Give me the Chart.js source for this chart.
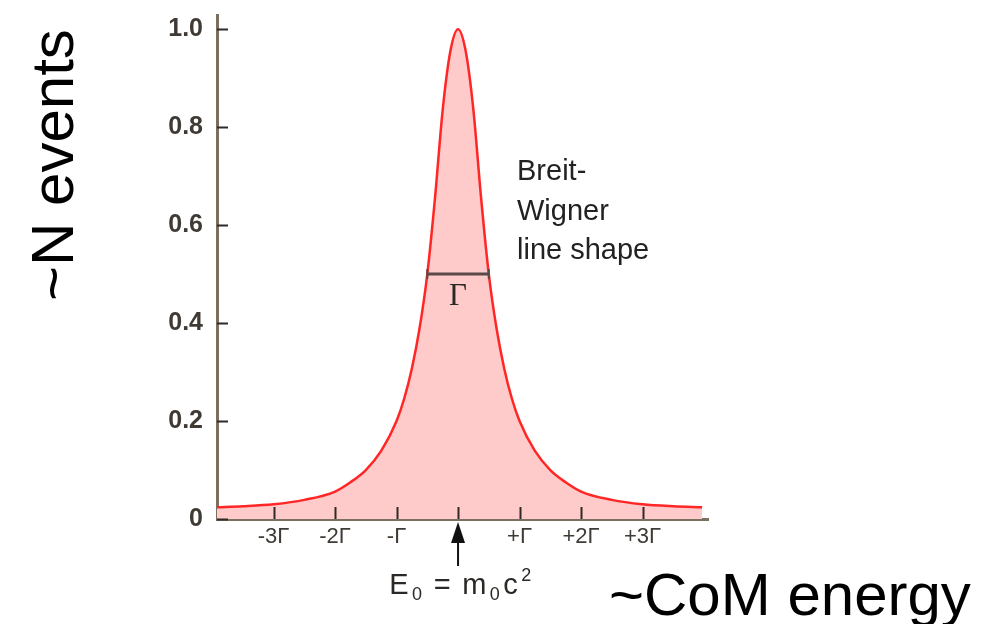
<!DOCTYPE html>
<html>
<head>
<meta charset="utf-8">
<title>Breit-Wigner line shape</title>
<script src="https://cdn.jsdelivr.net/npm/chart.js@4.4.1/dist/chart.umd.min.js"></script>
<style>
    html, body { margin: 0; padding: 0; background: #ffffff; }
    #wrap { width: 985px; height: 624px; position: relative; }
</style>
</head>
<body>
<div id="wrap"><canvas id="bwChart"></canvas></div>
<script>
// energy in units of Gamma, relative to E0
const energy = [-3.92, -3.5, -3, -2.5, -2, -1.75, -1.5, -1.25, -1, -0.875, -0.75, -0.625, -0.5, -0.375, -0.25, -0.125,
                0, 0.125, 0.25, 0.375, 0.5, 0.625, 0.75, 0.875, 1, 1.25, 1.5, 1.75, 2, 2.5, 3, 3.5, 3.97];
const events = [0.024, 0.026, 0.030, 0.039, 0.056, 0.075, 0.100, 0.139, 0.200, 0.246, 0.308, 0.390, 0.500, 0.655, 0.835, 0.955,
                1.0, 0.955, 0.835, 0.655, 0.500, 0.390, 0.308, 0.246, 0.200, 0.139, 0.100, 0.075, 0.056, 0.039, 0.030, 0.026, 0.024];

// full width at half maximum marker
const fwhmX = [-0.5, 0.5];
const fwhmY = [0.5, 0.5];

const xTicks = [-3, -2, -1, 0, 1, 2, 3];
const xTickLabels = ['-3\u0393', '-2\u0393', '-\u0393', '', '+\u0393', '+2\u0393', '+3\u0393'];
const yTicks = [0, 0.2, 0.4, 0.6, 0.8, 1.0];
const yTickLabels = ['0', '0.2', '0.4', '0.6', '0.8', '1.0'];

const tickColor = '#3f3a34';
const axisColor = '#7b705f';

// inside ticks, arrow, annotations and big axis titles
const decorations = {
    id: 'decorations',
    afterDatasetsDraw(chart) {
        const c = chart.ctx;
        const x = chart.scales.x;
        const y = chart.scales.y;
        const area = chart.chartArea;
        c.save();
        c.strokeStyle = '#2e2a26';
        c.lineWidth = 2;
        xTicks.forEach(v => {
            const px = Math.round(x.getPixelForValue(v)) + 0.5;
            c.beginPath();
            c.moveTo(px, area.bottom);
            c.lineTo(px, area.bottom - 12);
            c.stroke();
        });
        yTicks.forEach(v => {
            const py = Math.round(y.getPixelForValue(v)) + 0.5;
            c.beginPath();
            c.moveTo(area.left, py);
            c.lineTo(area.left + 11, py);
            c.stroke();
        });
        c.restore();
    },
    afterDraw(chart) {
        const c = chart.ctx;
        const x = chart.scales.x;
        const y = chart.scales.y;
        const area = chart.chartArea;
        const cx = x.getPixelForValue(0);
        c.save();

        // arrow pointing at E0
        c.fillStyle = '#111';
        c.strokeStyle = '#111';
        c.lineWidth = 2;
        c.beginPath();
        c.moveTo(cx, area.bottom + 12);
        c.lineTo(cx, area.bottom + 47);
        c.stroke();
        c.beginPath();
        c.moveTo(cx, area.bottom + 3);
        c.lineTo(cx - 7, area.bottom + 24);
        c.lineTo(cx + 7, area.bottom + 24);
        c.closePath();
        c.fill();

        // E0 = m0 c^2
        c.fillStyle = '#2b2825';
        c.textBaseline = 'alphabetic';
        c.textAlign = 'left';
        const big = '29px "Liberation Sans", Arial, sans-serif';
        const small = '18px "Liberation Sans", Arial, sans-serif';
        const parts = [
            ['E', big, 0], ['0', small, 6], [' = ', big, 0], ['m', big, 0], ['0', small, 6], ['c', big, 0], ['2', small, -13]
        ];
        let total = 0;
        parts.forEach(p => { c.font = p[1]; total += c.measureText(p[0]).width + 3.5; });
        let tx = cx - total / 2 + 4;
        const base = 594;
        parts.forEach(p => {
            c.font = p[1];
            c.fillText(p[0], tx, base + p[2]);
            tx += c.measureText(p[0]).width + 3.5;
        });

        // Gamma under the width bar
        c.font = '31px "Liberation Serif", "DejaVu Serif", serif';
        c.textAlign = 'center';
        c.fillStyle = '#2b2825';
        c.fillText('\u0393', cx, y.getPixelForValue(0.5) + 31);

        // curve label
        c.font = '29px "Liberation Sans", Arial, sans-serif';
        c.textAlign = 'left';
        c.fillStyle = '#222';
        c.fillText('Breit-', 517, 180);
        c.fillText('Wigner', 517, 220);
        c.fillText('line shape', 517, 259);

        // axis titles
        c.fillStyle = '#000';
        c.font = '60px "Liberation Sans", Arial, sans-serif';
        c.fillText('~CoM energy', 609, 615);
        c.translate(73, 301);
        c.rotate(-Math.PI / 2);
        c.fillText('~N events', 0, 0);
        c.restore();
    }
};

const ctx = document.getElementById('bwChart').getContext('2d');
const bwChart = new Chart(ctx, {
    type: 'line',
    data: {
        datasets: [{
            label: 'Breit-Wigner',
            data: energy.map((e, i) => ({ x: e, y: events[i] })),
            borderColor: '#ff2626',
            backgroundColor: '#ffcaca',
            borderWidth: 2.5,
            fill: 'origin',
            pointRadius: 0,
            cubicInterpolationMode: 'monotone',
            order: 2
        }, {
            label: 'FWHM',
            data: fwhmX.map((e, i) => ({ x: e, y: fwhmY[i] })),
            borderColor: '#5b4848',
            borderWidth: 3,
            fill: false,
            pointRadius: 5,
            pointStyle: 'line',
            rotation: 90,
            pointBorderColor: '#5b4848',
            pointBorderWidth: 2,
            order: 1
        }]
    },
    options: {
        responsive: true,
        maintainAspectRatio: false,
        animation: false,
        events: [],
        layout: { padding: { top: 15, right: 277, left: 0, bottom: 0 } },
        plugins: {
            legend: { display: false },
            tooltip: { enabled: false }
        },
        scales: {
            x: {
                type: 'linear',
                min: -3.92,
                max: 4.065,
                afterBuildTicks: scale => { scale.ticks = xTicks.map(v => ({ value: v })); },
                afterFit: scale => { scale.height = 105; scale.paddingLeft = 0; scale.paddingRight = 0; },
                grid: { display: false, drawTicks: false },
                border: { display: true, color: axisColor, width: 3 },
                ticks: {
                    padding: 5,
                    maxRotation: 0,
                    autoSkip: false,
                    color: tickColor,
                    font: { family: '"Liberation Sans", Arial, sans-serif', size: 22 },
                    callback: (v, i) => xTickLabels[i]
                }
            },
            y: {
                min: 0,
                max: 1.029,
                afterBuildTicks: scale => { scale.ticks = yTicks.map(v => ({ value: v })); },
                afterFit: scale => { scale.width = 217; scale.paddingTop = 0; scale.paddingBottom = 0; },
                grid: { display: false, drawTicks: false },
                border: { display: true, color: axisColor, width: 3 },
                ticks: {
                    padding: 14,
                    color: tickColor,
                    font: { family: '"Liberation Sans", Arial, sans-serif', size: 25, weight: 'bold' },
                    callback: (v, i) => yTickLabels[i]
                }
            }
        }
    },
    plugins: [decorations]
});
</script>
</body>
</html>
